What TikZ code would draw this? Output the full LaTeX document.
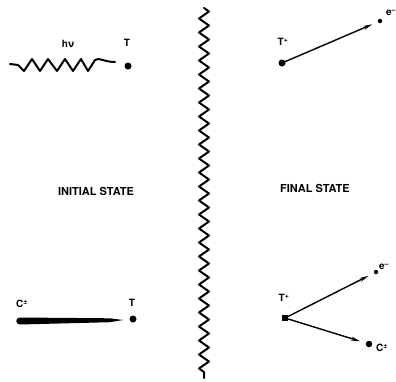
\documentclass[tikz,border=0pt]{standalone}
\usepackage{fontspec}
\setmainfont{TeX Gyre Heros}
\usetikzlibrary{positioning, arrows.meta, decorations.pathmorphing}

\begin{document}
\begin{tikzpicture}[x=1pt, y=-1pt, line join=round, line cap=round,
  dot/.style={circle, fill, inner sep=0pt, minimum size=7pt},
  edot/.style={circle, fill, inner sep=0pt, minimum size=4.5pt},
  sqdot/.style={rectangle, fill, inner sep=0pt, minimum size=6pt},
  lbl/.style={font=\bfseries\fontsize{10}{11}\selectfont, inner sep=0pt},
  state/.style={font=\bfseries\fontsize{11}{13}\selectfont, inner sep=0pt},
  track/.style={-{Stealth[length=9pt, width=4pt]}, line width=1.4pt, shorten >=6pt},
]
  \useasboundingbox (0,0) rectangle (396,381);

  % initial state
  \node[dot] (t1) at (128,66) {};
  \node[lbl] at (127,43) {T};
  \node[lbl] at (68,44) {hν};
  \coordinate (hv0) at (10,64);
  \coordinate (hv1) at (115,62);
  \draw[line width=2pt] (hv0) -- (18,65) -- (24,71) -- (32,59) -- (40,71) -- (48,59)
    -- (57,71) -- (65,59) -- (73,71) -- (81,59) -- (88,71) -- (95,60)
    .. controls (99,57) and (104,62) .. (hv1);

  \node[state] (ini) at (96,191) {INITIAL STATE};

  \node[dot] (t2) at (133,319) {};
  \node[lbl] at (132,303) {T};
  \node[lbl] at (22,304) {C\textsuperscript{±}};
  \coordinate (c0) at (20,321);
  \fill (20,317.5) -- (110,318.3) -- (123,320) -- (110,322.2) -- (20,324.5)
    .. controls (15,324.5) and (15,317.5) .. (20,317.5) -- cycle;

  % barrier
  \draw[line width=2pt, decorate, decoration={zigzag, segment length=14pt, amplitude=5pt}]
    (204,8) -- (204,378);

  % final state
  \node[state] (fin) at (315,188) {FINAL STATE};

  \node[dot] (tp1) at (282,63) {};
  \node[lbl] at (283,42) {T\textsuperscript{+}};
  \node[edot] (e1) at (380,21) {};
  \node[lbl] at (391,13) {e\textsuperscript{–}};
  \draw[track] (tp1) -- (e1);

  \node[sqdot] (tp2) at (285,318) {};
  \node[lbl] at (284,298) {T\textsuperscript{+}};
  \node[edot] (e2) at (376,272) {};
  \node[lbl] at (384,267) {e\textsuperscript{–}};
  \node[dot, minimum size=6.5pt] (c2) at (369,344) {};
  \node[lbl] at (382,348) {C\textsuperscript{±}};
  \draw[track] (tp2) -- (e2);
  \draw[track] (tp2) -- (c2);
\end{tikzpicture}
\end{document}
